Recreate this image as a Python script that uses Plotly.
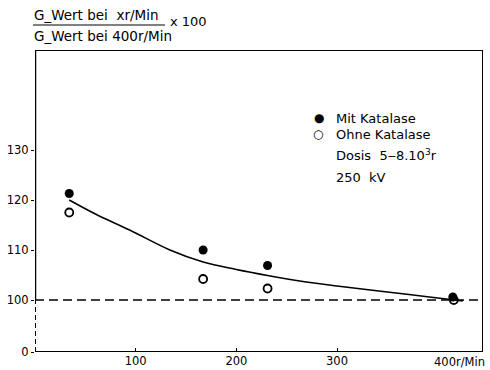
import plotly.graph_objects as go

# data
x_mit = [34, 167, 231, 415]
y_mit = [121.3, 110.0, 106.9, 100.6]
x_ohne = [34, 167, 231, 416]
y_ohne = [117.5, 104.2, 102.3, 100.0]
curve_x = [34, 60, 94, 134, 167, 200, 231, 263, 300, 350, 400, 425]
curve_y = [120, 117.2, 114, 110, 107.6, 106.1, 104.9, 103.8, 102.8, 101.6, 100.4, 99.8]
y_zero_pos = 89.6  # broken axis: position of "0"
y_tickvals = [y_zero_pos, 100, 110, 120, 130]
y_ticktext = ["0", "100", "110", "120", "130"]
x_tickvals = [100, 200, 300]
x_ticktext = ["100", "200", "300"]

FONT = "DejaVu Sans, sans-serif"
PW, PH = 448, 302  # plot area size in px
L, T = 35, 50


def px_x(p):
    return (p - L) / PW


def px_y(p):
    return (T + PH - p) / PH


fig = go.Figure()
fig.add_trace(go.Scatter(x=curve_x, y=curve_y, mode="lines", line=dict(color="black", width=1.6, shape="spline"),
                         showlegend=False, hoverinfo="skip"))
fig.add_trace(go.Scatter(x=x_mit, y=y_mit, mode="markers", name="Mit Katalase", showlegend=False,
                         marker=dict(symbol="circle", size=9, color="black")))
fig.add_trace(go.Scatter(x=x_ohne, y=y_ohne, mode="markers", name="Ohne Katalase", showlegend=False,
                         marker=dict(symbol="circle-open", size=8, color="black", line=dict(width=1.8))))

X0, X1 = 0, 445
Y0, Y1 = y_zero_pos, 150

shapes = [
    dict(type="line", xref="x", yref="y", x0=X0, x1=X1, y0=100, y1=100, line=dict(color="black", width=1.6, dash="9px,5px")),
    dict(type="line", xref="x", yref="y", x0=X0, x1=X1, y0=Y1, y1=Y1, line=dict(color="black", width=2)),
    dict(type="line", xref="x", yref="y", x0=X1, x1=X1, y0=Y0, y1=Y1, line=dict(color="black", width=2)),
    dict(type="line", xref="x", yref="y", x0=X0, x1=X1, y0=Y0, y1=Y0, line=dict(color="black", width=2)),
    dict(type="line", xref="x", yref="y", x0=X0, x1=X0, y0=100, y1=Y1, line=dict(color="black", width=2.5)),
    dict(type="line", xref="x", yref="y", x0=X0, x1=X0, y0=Y0, y1=100, line=dict(color="black", width=2, dash="5px,3px")),
    dict(type="line", xref="paper", yref="paper", x0=px_x(33), x1=px_x(165), y0=px_y(25), y1=px_y(25),
         line=dict(color="black", width=1)),
]


def txt(s, x, y, size=12, anchor="left"):
    return dict(text=s, xref="paper", yref="paper", x=px_x(x), y=px_y(y), xanchor=anchor, yanchor="middle",
                showarrow=False, font=dict(size=size, family=FONT, color="black"))


annotations = [
    txt("G_Wert bei  xr/Min", 32, 15, 13.5),
    txt("G_Wert bei 400r/Min", 32, 36, 13.5),
    txt("x 100", 168, 21, 13),
    txt("●", 312, 118, 12),
    txt("Mit Katalase", 334, 118, 13),
    txt("○", 311, 134, 12),
    txt("Ohne Katalase", 334, 134, 13),
    txt("Dosis  5‒8.10<sup>3</sup>r", 334, 155, 13),
    txt("250  kV", 334, 177, 13),
    txt("400r/Min", 432, 362, 11.5),
]

fig.update_layout(
    width=490, height=370,
    margin=dict(l=L, r=490 - L - PW, t=T, b=370 - T - PH),
    plot_bgcolor="white", paper_bgcolor="white",
    font=dict(family=FONT, size=11, color="black"),
    shapes=shapes, annotations=annotations, showlegend=False,
    xaxis=dict(range=[X0, X1], showgrid=False, zeroline=False, showline=False, automargin=False,
               tickvals=x_tickvals, ticktext=x_ticktext, ticks="inside", ticklen=4, tickwidth=1, tickcolor="black",
               tickfont=dict(size=11.5, family=FONT)),
    yaxis=dict(range=[Y0, Y1], showgrid=False, zeroline=False, showline=False, automargin=False,
               tickvals=y_tickvals, ticktext=y_ticktext, ticks="outside", ticklen=3, tickwidth=1, tickcolor="black",
               tickfont=dict(size=11.5, family=FONT)),
)

fig.write_html("out.html", config={"displayModeBar": False},
               post_script="document.body.style.margin='0';document.body.style.overflow='hidden';")
